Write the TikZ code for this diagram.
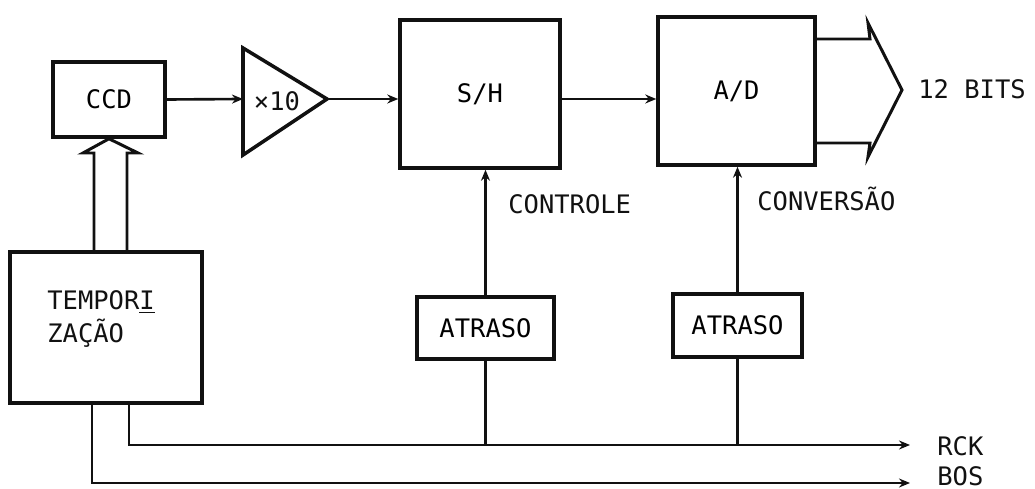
\documentclass[tikz,border=0pt]{standalone}
\usepackage{fontspec}
\newfontfamily\typewr{DejaVu Sans Mono}
\usepackage{xcolor}
\usepackage{tikz}
\usetikzlibrary{calc,arrows.meta,positioning}
\definecolor{ink}{HTML}{111111}
\tikzset{
  ar/.style={-{Stealth[length=2.2mm,width=1.8mm]},line width=1.5pt,ink},
  ln/.style={line width=1.5pt,ink},
  blk/.style={draw=ink,line width=2pt,inner sep=0pt,font=\typewr\fontsize{14.5}{19}\selectfont},
  lbl/.style={font=\typewr\fontsize{14.5}{19}\selectfont,text=ink,inner sep=0pt}
}

\begin{document}
\begin{tikzpicture}[x=0.02cm,y=-0.02cm]
\useasboundingbox (0,0) rectangle (1035,489);
% blocos
\node[blk,minimum width=2.24cm,minimum height=1.5cm] (ccd) at (109,99.5) {CCD};
\node[blk,minimum width=3.2cm,minimum height=2.96cm] (sh) at (480,94) {S/H};
\node[blk,minimum width=3.14cm,minimum height=2.96cm] (ad) at (736.5,91) {A/D};
\node[blk,minimum width=3.84cm,minimum height=3.02cm] (tmp) at (106,327.5) {};
\node[lbl,anchor=base west,align=left] (tmptxt) at (47,343) {TEMPOR\underline{I}\\ZAÇÃO};
\node[blk,minimum width=2.74cm,minimum height=1.24cm] (atr1) at (485.5,328) {ATRASO};
\node[blk,minimum width=2.58cm,minimum height=1.26cm] (atr2) at (737.5,325.5) {ATRASO};
% amplificador
\coordinate (ampin) at (243,99);
\coordinate (ampout) at (327,99);
\draw[blk] (243,48) -- (ampout) -- (243,155) -- cycle;
\node[lbl] (amp) at (277,101) {×10};
% sinal
\draw[ar] (ccd.east) -- (ampin);
\draw[ar] (ampout) -- (ampout -| sh.west);
\draw[ar] (sh.east |- ampout) -- (sh.east |- ampout -| ad.west);
\draw[ar] (atr1.north) -- (atr1.north |- sh.south);
\draw[ar] (atr2.north) -- (atr2.north |- ad.south);
\node[lbl,anchor=west] (ctl) at (508,204) {CONTROLE};
\node[lbl,anchor=west] (cnv) at (757,199) {CONVERSÃO};
% saida 12 bits
\draw[line width=1.7pt,ink] (815,39) -- (870,39) -- (868,23) -- (902,90)
  -- (868,157) -- (870,143) -- (815,143);
\node[lbl,anchor=west] (bits) at (918,89) {12 BITS};
% seta dupla
\draw[line width=1.7pt,ink] (94,252) -- (94,153) -- (83,153) -- (ccd.south)
  -- (138,153) -- (127,153) -- (127,252);
% RCK e BOS
\coordinate (rck) at (910,445);
\coordinate (bos) at (910,483);
\draw[ar] ($(tmp.south)+(23,0)$) |- (rck);
\draw[ar] ($(tmp.south)+(-14,0)$) |- (bos);
\draw[ln] (atr1.south) -- (atr1.south |- rck);
\draw[ln] (atr2.south) -- (atr2.south |- rck);
\node[lbl,anchor=west] (rcktxt) at (937,446) {RCK};
\node[lbl,anchor=west] (bostxt) at (937,476) {BOS};
\end{tikzpicture}
\end{document}
